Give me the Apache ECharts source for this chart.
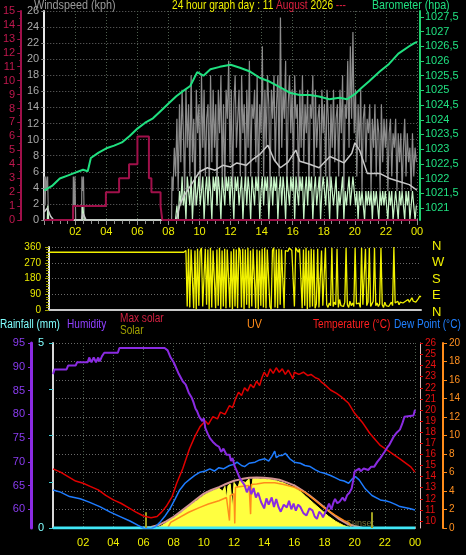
<!DOCTYPE html>
<html><head><meta charset="utf-8">
<script src="https://cdn.jsdelivr.net/npm/echarts@6/dist/echarts.min.js"></script>
<style>html,body{margin:0;padding:0;background:#000;}#c{width:466px;height:555px;}</style>
</head><body><div id="c"></div>
<script>
const FONT = 'Liberation Sans';
// ---------- tick labels ----------
const baroTicks = [1021,1021.5,1022,1022.5,1023,1023.5,1024,1024.5,1025,1025.5,1026,1026.5,1027,1027.5];
const humTicks = [60,65,70,75,80,85,90,95];
const tempTicks = [10,11,12,13,14,15,16,17,18,19,20,21,22,23,24,25,26];
const rainTicks = [0,5];
const dirLetters = ['N','W','S','E','N'];

// ---------- top panel ----------
const baroT = [0,0.5,1,1.5,2,2.5,2.8,3,3.5,4,4.5,5,5.5,6,6.5,7,7.5,8,8.5,9,9.4,9.85,10.25,10.7,11.3,12,12.6,13.25,13.9,14.5,15.2,15.8,16.45,17.1,17.7,18.35,19,19.5,20,20.4,20.9,21.6,22.2,22.8,23.5,23.8,24];
const baroV = [1021.6,1021.75,1022.0,1022.1,1022.2,1022.3,1022.25,1022.7,1022.88,1023.03,1023.12,1023.23,1023.45,1023.7,1023.9,1024.05,1024.3,1024.55,1024.8,1025.0,1025.15,1025.62,1025.5,1025.72,1025.8,1025.87,1025.77,1025.64,1025.42,1025.3,1025.1,1024.92,1024.84,1024.84,1024.79,1024.7,1024.75,1024.7,1024.87,1025.07,1025.3,1025.64,1025.9,1026.25,1026.5,1026.6,1026.65];

const rainRateT = [0,1.86,3.97,4.82,5.46,6.0,6.74,6.9,7.49,7.6,24];
const rainRateV = [0,1,2,3,4,6,3,2,1,0,0];

const gustEarlyT = [0,0.03,0.08,0.12,0.18,0.25,0.3,0.4,1.85,1.9,1.95,2.0,2.05,2.4,2.45,2.5,2.55,2.6,8.2];
const gustEarlyV = [0,5.4,1.8,5.4,3.6,5.4,0,0,0,5.4,1.8,5.4,0,0,5.4,3.6,5.4,0,0];
const gustStart = 8.25; // every 5 minutes
const gustV = [
 5.4,3.6,9,5.4,12.6,3.6,14.4,7.2,16.2,
 10.8,3.6,16.2,9,14.4,5.4,18,7.2,12.6,1.8,16.2,10.8,
 14.4,3.6,18,9,16.2,5.4,12.6,14.4,3.6,18,7.2,16.2,
 9,14.4,1.8,16.2,10.8,18,5.4,14.4,3.6,16.2,12.6,19.8,
 7.2,16.2,3.6,14.4,18,9,12.6,16.2,5.4,18,10.8,14.4,
 3.6,16.2,9,19.8,5.4,14.4,12.6,16.2,7.2,18,3.6,14.4,
 10.8,21.6,5.4,16.2,9,18,14.4,3.6,16.2,12.6,18,7.2,
 14.4,18,5.4,25.2,9,16.2,12.6,19.8,3.6,14.4,18,10.8,
 16.2,5.4,18,12.6,14.4,3.6,16.2,9,18,7.2,14.4,10.8,
 16.2,3.6,14.4,12.6,18,5.4,16.2,9,12.6,14.4,3.6,16.2,
 10.8,14.4,5.4,16.2,12.6,3.6,14.4,9,16.2,7.2,12.6,14.4,
 5.4,16.2,10.8,18,3.6,14.4,12.6,19.8,9,21.6,12.6,23.4,
 10.8,16.2,5.4,14.4,9,16.2,3.6,12.6,14.4,7.2,12.6,10.8,
 14.4,3.6,12.6,9,14.4,5.4,12.6,10.8,3.6,14.4,7.2,12.6,
 9,12.6,3.6,10.8,12.6,5.4,10.8,9,12.6,3.6,10.8,7.2,
 10.8,3.6,9,12.6,5.4,10.8,7.2,9,3.6,10.8,5.4,9,7.2];

const speedEarlyT = [0,0.2,0.25,0.32,2.45,2.5,2.55,2.6,8.45];
const speedEarlyV = [0,0,1.8,0,0,1.8,1.8,0,0];
const speedStart = 8.5; // every 5 minutes
const speedV = [
 0,1.8,0,3.6,1.8,5.4,
 1.8,3.6,0,5.4,3.6,1.8,5.4,0,3.6,5.4,1.8,3.6,
 5.4,1.8,3.6,5.4,0,3.6,5.4,1.8,5.4,3.6,0,5.4,
 3.6,5.4,1.8,5.4,3.6,0,5.4,3.6,1.8,5.4,3.6,5.4,
 1.8,5.4,3.6,0,5.4,3.6,5.4,1.8,3.6,5.4,0,3.6,
 5.4,1.8,5.4,3.6,0,5.4,3.6,1.8,5.4,3.6,5.4,0,
 3.6,5.4,1.8,5.4,3.6,5.4,0,3.6,5.4,1.8,5.4,3.6,
 5.4,0,3.6,5.4,1.8,5.4,3.6,0,5.4,3.6,1.8,5.4,
 3.6,5.4,0,5.4,3.6,1.8,5.4,3.6,5.4,0,3.6,5.4,
 1.8,5.4,3.6,5.4,0,3.6,5.4,1.8,3.6,5.4,0,3.6,
 5.4,3.6,1.8,5.4,3.6,0,5.4,3.6,1.8,3.6,5.4,0,
 3.6,1.8,3.6,5.4,0,3.6,1.8,3.6,5.4,1.8,3.6,5.4,
 3.6,1.8,3.6,0,3.6,1.8,3.6,1.8,0,3.6,1.8,3.6,
 1.8,3.6,0,3.6,1.8,3.6,1.8,0,3.6,1.8,3.6,1.8,
 3.6,1.8,0,3.6,1.8,3.6,0,1.8,3.6,1.8,0,3.6,
 1.8,3.6,1.8,0,3.6,1.8,3.6,0,1.8,3.6,1.8,0,1.8];

const avgT = [0,0.2,0.4,0.6,2.4,2.5,2.7,8.5,8.75,9,9.5,10,10.5,11,11.5,12,12.4,13,13.4,13.9,14.4,14.8,15.2,15.7,16.2,16.45,17,17.7,18.4,19.3,19.8,20,20.3,20.8,21.6,22.2,22.85,23.5,24];
const avgV = [1,1.5,0.5,0,0,0.8,0,0,2,3,4.5,6,6.5,6.2,6.8,6.6,7.1,6.8,7.5,8.2,9.3,7.5,6.5,7.2,8.7,7.3,7,6.5,7.9,7.1,8.3,9.6,8.7,5.8,5.8,5.2,4.8,4.4,3.7];

// ---------- wind direction ----------
const dirEarlyT = [0,8.7];
const dirEarlyV = [330,330];
const dirStart = 8.75; // every 5 minutes
const dirV = [
 330,340,20,
 350,15,345,355,10,340,5,350,25,335,355,20,
 10,350,30,345,5,355,15,340,350,10,345,25,
 355,5,340,20,350,10,345,355,15,335,5,350,
 20,345,10,355,340,15,350,5,345,30,355,10,
 340,20,350,355,10,345,5,340,25,350,15,355,
 10,345,350,20,5,340,355,15,345,10,350,30,
 345,355,10,340,350,335,355,345,340,350,20,355,
 345,330,350,340,10,345,25,355,5,340,15,350,
 20,345,10,35,350,15,5,340,25,20,355,30,
 15,40,25,355,20,45,30,350,15,60,25,35,
 20,45,355,30,15,50,25,40,20,355,35,25,
 40,15,355,30,20,350,25,45,355,20,30,50,
 355,25,40,20,35,355,30,15,45,25,35,20,
 30,45,25,360,40,35,50,30,45,55,40,35,
 50,40,60,45,55,70,50,60,45,55,65,80,75];

// ---------- bottom panel ----------
const humT = [0,0.1,0.9,1.0,1.5,1.6,2.3,2.4,2.55,2.7,2.85,3.0,3.1,3.25,3.4,4.3,4.4,7.4,7.6,7.8,8.0,8.3,8.6,8.8,9.0,9.2,9.3,9.45,9.55,9.7,9.9,10.0,10.1,10.25,10.4,10.6,10.8,11.0,11.15,11.3,11.5,11.7,11.8,11.9,12.05,12.2,12.35,12.5,12.7,12.85,13.0,13.15,13.3,13.45,13.6,13.8,14.0,14.15,14.3,14.5,14.65,14.8,14.95,15.1,15.3,15.5,15.65,15.8,15.95,16.1,16.25,16.4,16.6,16.8,17.0,17.2,17.35,17.5,17.65,17.8,17.9,18.0,18.15,18.3,18.45,18.6,18.7,18.85,19.0,19.2,19.35,19.5,19.65,19.8,19.9,20.0,20.3,20.4,20.6,20.9,21.1,21.3,21.5,21.7,21.85,22.0,22.15,22.3,22.45,22.6,22.8,23.0,23.15,23.3,23.9,24];
const humV = [88.5,89.5,89.5,90.3,90.3,91,91,92,91,92,91,92,91.2,92.3,93,93,94,94,93.5,92,91,88.8,87,86.3,84.6,83.5,82.7,81.2,80.7,79.5,78.6,79.2,77.1,76,75,74.2,73.6,73.2,72.1,72.8,71.5,71.5,70.2,70.8,69,68,66.8,66,65.1,63.6,64.8,63.2,64.5,62.5,63.5,61.5,60.2,62.3,61,62.5,60.5,62.2,60.5,59.5,61,60.4,61.8,60,61.2,59.7,61,60.5,59.2,58.7,60.2,59.8,58.5,58,59.5,59,58.3,58.3,60,61.2,60,61.5,62.2,61.3,61.6,62.5,61.8,63,63.5,64.4,66,68,68.6,68,68.6,68.3,69,69,70,70.8,71.5,72.2,73,73.6,74.5,75.4,76.2,76.8,78,79.5,79.8,81];

const tempT = [0,0.5,1,1.5,2,2.5,3,3.5,4,4.5,5,5.5,6,6.5,6.9,7.2,7.5,7.9,8.2,8.6,9.05,9.4,9.75,10.1,10.3,10.6,10.9,11.1,11.4,11.7,11.9,12.1,12.3,12.5,12.7,12.9,13.1,13.3,13.5,13.7,13.85,14.0,14.2,14.4,14.6,14.8,15.0,15.2,15.4,15.6,15.8,15.9,16.0,16.3,16.6,16.9,17.1,17.4,17.6,17.8,18.0,18.4,18.8,19.1,19.6,20.0,20.5,21.0,21.7,22.35,23.0,23.7,24];
const tempV = [14.7,14.4,14.0,13.6,13.4,13.1,12.8,12.3,11.9,11.6,11.2,10.8,10.45,10.3,10.4,10.8,11.3,12.2,13.4,14.7,16.5,17.6,18.5,19.0,18.7,19.4,19.2,19.8,19.6,20.4,20.2,21.0,21.6,21.3,22.0,21.7,22.3,22.0,22.6,22.2,22.9,23.4,23.0,23.7,23.3,23.8,23.4,23.7,23.2,23.6,23.1,22.8,23.4,23.2,23.4,23.1,23.2,22.9,22.8,22.5,22.3,21.8,21.5,21.2,20.6,19.7,18.9,17.9,16.8,16.2,15.6,14.9,14.4];

const dewT = [0,0.5,1.1,1.8,2.4,3.1,3.8,4.45,5.1,5.65,6.0,6.5,6.8,7.1,7.4,7.75,8.1,8.4,8.75,9.1,9.4,9.75,10.1,10.4,10.7,11.0,11.3,11.7,12.0,12.2,12.5,12.7,13.0,13.4,13.7,14.05,14.3,14.5,14.7,14.8,15.0,15.2,15.4,15.7,16.0,16.4,16.7,17.05,17.4,17.7,18.0,18.4,18.7,19.0,19.3,19.6,19.85,20.05,20.3,20.7,21.15,21.7,22.1,22.35,22.7,23.0,23.4,23.7,24];
const dewV = [12.8,12.6,12.2,12.0,11.7,11.3,10.8,10.4,10.0,9.6,9.35,9.3,9.5,9.9,10.4,11.1,12.0,12.8,13.4,13.8,14.1,14.4,14.5,14.7,14.5,14.8,14.7,15.0,15.1,15.3,15.0,14.9,15.2,15.3,15.5,15.6,15.4,15.8,16.3,15.7,15.9,15.9,16.1,15.6,15.3,15.2,15.0,14.9,14.6,14.4,14.3,14.1,13.9,13.7,13.6,13.4,13.8,14.0,13.7,12.9,12.3,11.9,11.8,11.7,11.5,11.3,11.2,11.1,11.0];

const maxSolarT = [0,5.9,6.5,7,7.5,8,8.5,9,9.5,10,10.5,11,11.5,12,12.5,13,13.5,14,14.5,15,15.5,16,16.5,17,17.5,18,18.5,19,19.5,20,20.5,20.7,24];
const maxSolarV = [0,0,15,45,100,170,255,345,435,520,575,618,670,715,740,760,765,760,750,730,690,645,575,495,405,310,215,130,65,30,5,0,0];

const solarT = [0,6.9,7.0,7.25,7.5,7.75,8,8.25,8.5,8.75,9,9.25,9.5,9.75,10,10.25,10.5,10.75,11,11.25,11.4,11.5,11.6,11.75,11.9,12,12.1,12.25,12.4,12.5,12.75,13,13.1,13.25,13.5,13.75,14,14.25,14.5,14.75,15,15.25,15.5,15.75,16,16.25,16.5,16.75,17,17.25,17.5,17.75,18,18.25,18.5,18.75,19,19.25,19.5,19.75,20,24];
const solarV = [0,0,20,40,80,120,155,195,235,285,325,370,410,455,495,530,555,580,600,560,630,450,640,665,300,690,700,600,720,730,690,745,400,745,750,740,745,735,730,720,700,685,660,635,610,575,535,480,430,380,330,280,230,180,140,100,70,40,20,5,0,0];

const uvT = [0,7.6,7.8,9.0,9.7,10.3,11.0,11.5,11.7,11.75,12.0,12.05,12.1,12.7,13.0,13.1,13.15,13.5,14.0,14.7,15.3,16.0,16.7,17.4,18.0,18.7,19.3,19.6,19.8,24];
const uvV = [0,0,0.6,1.7,2.2,2.6,2.95,3.3,0.8,3.5,3.7,0.5,4.4,4.55,4.6,1.5,4.7,4.75,4.9,4.9,4.7,4.4,3.85,2.95,2.15,1.4,0.8,0.6,0,0];

const rainT = [0,24];
const rainV = [0,0];
const sunEvents = [6.17, 21.15];
const sunMarkHeight = 240;

// ---------- helpers ----------
const zip = (t, v) => t.map((x, i) => [x, v[i]]);
const regular = (start, vals) => vals.map((v, i) => [start + i * 5 / 60, v]);
const hourFmt = v => (v === 0 ? '' : (v === 24 ? '00' : String(v).padStart(2, '0')));

const dot = c => ({ show: true, lineStyle: { color: c, type: [1, 2], width: 1 } });
const label = (x, y, text, fill, size, sx) => ({
  type: 'text', x: x, y: y, scaleX: sx, z: 100,
  style: { text: text, fill: fill, font: size + 'px ' + FONT }
});

const chart = echarts.init(document.getElementById('c'), null, { renderer: 'canvas' });

const option = {
  backgroundColor: '#000',
  animation: false,
  textStyle: { fontFamily: FONT },
  grid: [
    { left: 43, top: 11, width: 374, height: 209 },
    { left: 49, top: 247, width: 372, height: 63 },
    { left: 53, top: 343, width: 362, height: 185 }
  ],
  xAxis: [
    { gridIndex: 0, type: 'value', min: 0, max: 24, interval: 2,
      axisLine: { show: true, lineStyle: { color: '#c8c8c8', width: 2 } },
      axisTick: { show: true, length: 5, lineStyle: { color: '#909090' } },
      minorTick: { show: true, splitNumber: 4, length: 4, lineStyle: { color: '#909090' } },
      axisLabel: { formatter: hourFmt, color: '#f0f000', fontSize: 11, margin: 6, fontFamily: FONT },
      splitLine: dot('#4d5e4d') },
    { gridIndex: 1, type: 'value', min: 0, max: 24, interval: 2,
      axisLine: { show: true, lineStyle: { color: '#c8c8c8', width: 2 } },
      axisTick: { show: false }, axisLabel: { show: false }, splitLine: { show: false } },
    { gridIndex: 2, type: 'value', min: 0, max: 24, interval: 2,
      axisLine: { show: true, lineStyle: { color: '#c8c8c8', width: 2 } },
      axisTick: { show: false },
      axisLabel: { formatter: hourFmt, color: '#f0f000', fontSize: 11, margin: 9, fontFamily: FONT },
      splitLine: dot('#4d5e4d') },
    { gridIndex: 2, type: 'value', min: 0, max: 24, position: 'top',
      axisLine: { show: true, lineStyle: { color: '#9a9a9a', width: 1 } },
      axisTick: { show: false }, axisLabel: { show: false }, splitLine: { show: false } }
  ],
  yAxis: [
    // 0 windspeed
    { gridIndex: 0, type: 'value', min: 0, max: 26, interval: 2, position: 'left',
      axisLine: { show: true, lineStyle: { color: '#e8e8e8', width: 2 } },
      axisTick: { show: true, length: 3, lineStyle: { color: '#909090' } },
      axisLabel: { color: '#a8a8a8', fontSize: 11, margin: 5, fontFamily: FONT },
      splitLine: dot('#6a6a6a') },
    // 1 maroon rate axis
    { gridIndex: 0, type: 'value', min: 0, max: 15, interval: 1, position: 'left', offset: 23,
      axisLine: { show: true, lineStyle: { color: '#a0104a', width: 2 } },
      axisTick: { show: true, length: 4, lineStyle: { color: '#a0104a' } },
      minorTick: { show: true, splitNumber: 2, length: 2, lineStyle: { color: '#a0104a' } },
      axisLabel: { color: '#c0184e', fontSize: 11, margin: 6, fontFamily: FONT },
      splitLine: { show: false } },
    // 2 barometer
    { gridIndex: 0, type: 'value', min: 1020.59, max: 1027.7, position: 'right', offset: 3,
      axisLine: { show: true, lineStyle: { color: '#20d070', width: 2 } },
      axisTick: { show: true, length: 4, customValues: baroTicks, lineStyle: { color: '#20d070' } },
      axisLabel: { customValues: baroTicks, color: '#20e080', fontSize: 11, margin: 5, fontFamily: FONT,
        formatter: v => String(v).replace('.', ',') },
      splitLine: { show: false } },
    // 3 direction
    { gridIndex: 1, type: 'value', min: 0, max: 360, interval: 90, position: 'left',
      axisLine: { show: true, lineStyle: { color: '#e8e8e8', width: 2 } },
      axisTick: { show: true, length: 4, lineStyle: { color: '#a0a000' } },
      minorTick: { show: true, splitNumber: 6, length: 3, lineStyle: { color: '#a0a000' } },
      axisLabel: { color: '#e8e800', fontSize: 10, margin: 8, fontFamily: FONT },
      splitLine: dot('#6a6a6a') },
    // 4 rainfall
    { gridIndex: 2, type: 'value', min: 0, max: 5, interval: 1.25, position: 'left',
      axisLine: { show: true, lineStyle: { color: '#d8d8d8', width: 2 } },
      axisTick: { show: true, length: 4, lineStyle: { color: '#40c8d0' } },
      axisLabel: { color: '#80ffff', fontSize: 11, margin: 9, fontFamily: FONT,
        formatter: v => (rainTicks.indexOf(v) >= 0 ? String(v) : '') },
      splitLine: { show: false } },
    // 5 grid lines of the lower panel
    { gridIndex: 2, type: 'value', min: 0, max: 5, interval: 0.5, position: 'left',
      axisLine: { show: false }, axisTick: { show: false }, axisLabel: { show: false },
      splitLine: dot('#6a6a6a') },
    // 6 humidity
    { gridIndex: 2, type: 'value', min: 56.07, max: 95.06, position: 'left', offset: 22,
      axisLine: { show: true, lineStyle: { color: '#8a2be2', width: 3 } },
      axisTick: { show: true, length: 3, customValues: humTicks, lineStyle: { color: '#8a2be2' } },
      axisLabel: { customValues: humTicks, color: '#8a3cf0', fontSize: 11, margin: 6, fontFamily: FONT },
      splitLine: { show: false } },
    // 7 temperature
    { gridIndex: 2, type: 'value', min: 9.37, max: 26.03, position: 'right', offset: 5,
      axisLine: { show: true, lineStyle: { color: '#e0c0c0', width: 1 } },
      axisTick: { show: true, length: 3, customValues: tempTicks, lineStyle: { color: '#e00000' } },
      axisLabel: { customValues: tempTicks, color: '#e81010', fontSize: 10, margin: 5, fontFamily: FONT },
      splitLine: { show: false } },
    // 8 UV
    { gridIndex: 2, type: 'value', min: 0, max: 20, interval: 2, position: 'right', offset: 28,
      axisLine: { show: true, lineStyle: { color: '#ff8c1a', width: 2 } },
      axisTick: { show: true, length: 4, lineStyle: { color: '#ff8c1a' } },
      axisLabel: { color: '#ff9020', fontSize: 10, margin: 6, fontFamily: FONT },
      splitLine: { show: false } },
    // 9 solar (hidden)
    { gridIndex: 2, type: 'value', min: 0, max: 2800, show: false }
  ],
  graphic: [
    label(34, -1, 'Windspeed (kph)', '#9a9a9a', 13, 0.83),
    { type: 'text', x: 172, y: -1, scaleX: 0.78, z: 100, style: {
        text: '{y|24 hour graph day : 11 }{r|August}{y| 2026 }{r|---}',
        rich: { y: { fill: '#f0f000', font: '13px ' + FONT }, r: { fill: '#e02040', font: '13px ' + FONT } } } },
    label(372, -1, 'Barometer (hpa)', '#20e080', 13, 0.82),
    { type: 'text', x: 432, y: 238, z: 100, style: { text: dirLetters.join('\n'), fill: '#f0f000', font: '13px ' + FONT, lineHeight: 16.5 } },
    label(0, 319, 'Rainfall (mm)', '#80ffff', 12, 0.84),
    label(67, 319, 'Humidity', '#9040ff', 12, 0.84),
    label(120, 313, 'Max solar', '#d02040', 12, 0.84),
    label(120, 325, 'Solar', '#a0a000', 12, 0.84),
    label(247, 319, 'UV', '#ff8c1a', 12, 0.9),
    label(313, 319, 'Temperature (°C)', '#ff2020', 12, 0.84),
    label(394, 319, 'Dew Point (°C)', '#2080ff', 12, 0.84),
    { type: 'text', x: 346, y: 519, z: 100, style: { text: 'Sunset', fill: 'rgba(160,160,80,0.7)', font: '9px ' + FONT } }
  ],
  series: [
    { name: 'Gust', type: 'line', xAxisIndex: 0, yAxisIndex: 0, step: 'middle', showSymbol: false,
      lineStyle: { color: '#8c8c8c', width: 1.2 }, z: 1,
      data: zip(gustEarlyT, gustEarlyV).concat(regular(gustStart, gustV)) },
    { name: 'Wind', type: 'line', xAxisIndex: 0, yAxisIndex: 0, step: 'middle', showSymbol: false,
      lineStyle: { color: '#c8f5c8', width: 1.2 }, z: 2,
      data: zip(speedEarlyT, speedEarlyV).concat(regular(speedStart, speedV)) },
    { name: 'Average', type: 'line', xAxisIndex: 0, yAxisIndex: 0, showSymbol: false,
      lineStyle: { color: '#c8c8c8', width: 1.5 }, z: 3, data: zip(avgT, avgV) },
    { name: 'Rate', type: 'line', xAxisIndex: 0, yAxisIndex: 1, step: 'end', showSymbol: false,
      lineStyle: { color: '#a0104a', width: 2 }, z: 4, data: zip(rainRateT, rainRateV) },
    { name: 'Barometer', type: 'line', xAxisIndex: 0, yAxisIndex: 2, showSymbol: false,
      lineStyle: { color: '#20e080', width: 2 }, z: 5, data: zip(baroT, baroV) },
    { name: 'Direction', type: 'line', xAxisIndex: 1, yAxisIndex: 3, showSymbol: false,
      lineStyle: { color: '#f0f000', width: 1.3 }, z: 3,
      data: zip(dirEarlyT, dirEarlyV).concat(regular(dirStart, dirV)) },
    { name: 'Solar', type: 'line', xAxisIndex: 2, yAxisIndex: 9, showSymbol: false,
      lineStyle: { color: '#ffff40', width: 1 }, areaStyle: { color: '#ffff40', opacity: 1 }, z: 1,
      data: zip(solarT, solarV),
      markLine: { symbol: 'none', silent: true, label: { show: false },
        lineStyle: { color: '#a0a020', width: 2, type: 'solid' },
        data: sunEvents.map(t => [{ coord: [t, 0] }, { coord: [t, sunMarkHeight] }]) } },
    { name: 'Max solar', type: 'line', xAxisIndex: 2, yAxisIndex: 9, showSymbol: false,
      lineStyle: { color: '#d49494', width: 2 }, z: 2, data: zip(maxSolarT, maxSolarV) },
    { name: 'UV', type: 'line', xAxisIndex: 2, yAxisIndex: 8, showSymbol: false,
      lineStyle: { color: '#ff8c1a', width: 1.5 }, z: 3, data: zip(uvT, uvV) },
    { name: 'Rainfall', type: 'line', xAxisIndex: 2, yAxisIndex: 4, showSymbol: false,
      lineStyle: { color: '#40e8f8', width: 3 }, z: 4, data: zip(rainT, rainV) },
    { name: 'Dew Point', type: 'line', xAxisIndex: 2, yAxisIndex: 7, showSymbol: false,
      lineStyle: { color: '#1e7cff', width: 1.5 }, z: 5, data: zip(dewT, dewV) },
    { name: 'Temperature', type: 'line', xAxisIndex: 2, yAxisIndex: 7, showSymbol: false,
      lineStyle: { color: '#e00000', width: 1.5 }, z: 6, data: zip(tempT, tempV) },
    { name: 'Humidity', type: 'line', xAxisIndex: 2, yAxisIndex: 6, showSymbol: false,
      lineStyle: { color: '#8a2be2', width: 2 }, z: 7, data: zip(humT, humV) }
  ]
};
chart.setOption(option);
</script>
</body></html>
